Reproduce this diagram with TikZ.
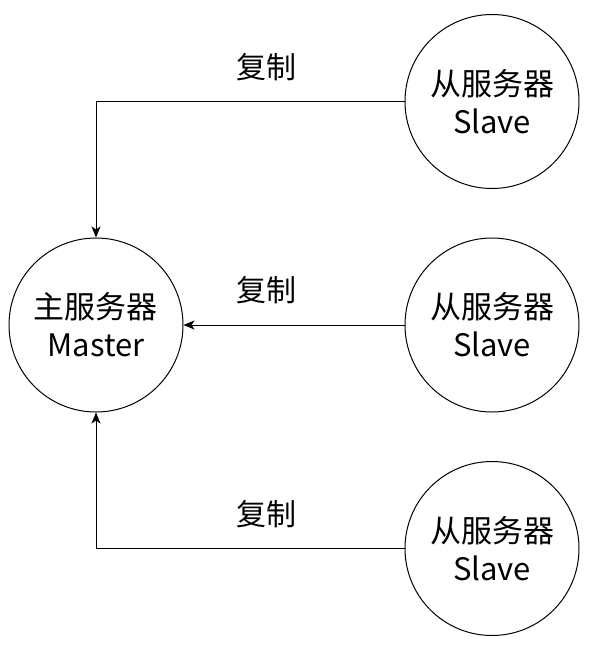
\documentclass[tikz,border=0pt]{standalone}
\usepackage{fontspec}
\setmainfont{Noto Sans CJK SC}
\usetikzlibrary{arrows.meta}
\begin{document}
\begin{tikzpicture}[x=1pt,y=-1pt,
  server/.style={circle,draw,line width=1pt,minimum size=174pt,inner sep=0pt,align=center,
    font=\fontsize{31}{38}\selectfont},
  lbl/.style={font=\fontsize{30}{34}\selectfont},
  link/.style={draw,line width=1pt,-{Stealth[length=11pt,width=9pt,inset=3pt]}}]
\useasboundingbox (0,0) rectangle (604,649);
\node[server] (m) at (96,325) {主服务器\\Master};
\node[server] (s1) at (492,101.5) {从服务器\\Slave};
\node[server] (s2) at (492,325) {从服务器\\Slave};
\node[server] (s3) at (492,548.5) {从服务器\\Slave};
\draw[link] (s1.west) -| (m.north);
\draw[link] (s2.west) -- (m.east);
\draw[link] (s3.west) -| (m.south);
\node[lbl] (l1) at (266,67) {复制};
\node[lbl] (l2) at (266,290) {复制};
\node[lbl] (l3) at (266,514) {复制};
\end{tikzpicture}
\end{document}
